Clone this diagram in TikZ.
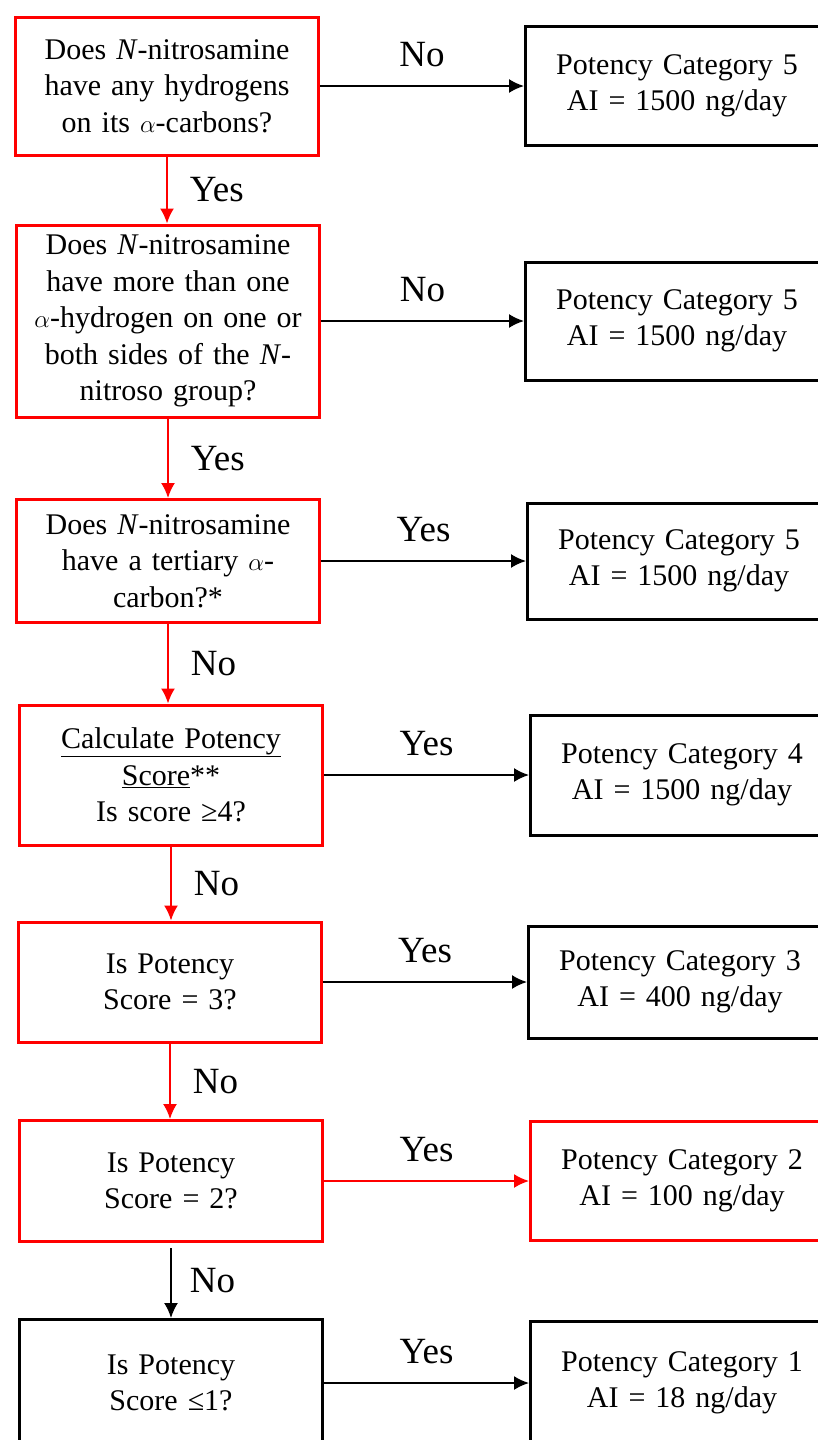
\documentclass[tikz,border=0pt]{standalone}
\usepackage{fontspec}
\setmainfont{Liberation Serif}
\usetikzlibrary{positioning,arrows.meta}
\tikzset{
qbox/.style={
  draw=#1,
  line width=3pt,
  minimum width=303pt,
  text width=296pt,
  align=center,
  inner sep=0pt,
  font=\fontsize{30}{36.5}\selectfont
  },
qbox/.default=red,
catbox/.style={
  qbox=#1,
  anchor=west
  },
catbox/.default=black,
lbl/.style={
  inner sep=0pt,
  font=\fontsize{37}{40}\selectfont
  },
link/.style={
  draw=#1,
  line width=1.8pt,
  -{Latex[length=15pt,width=14pt]}
  },
link/.default=black
}

\begin{document}
\begin{tikzpicture}[x=1pt,y=-1pt]
\useasboundingbox (0,0) rectangle (817,1440);

% questions
\node[qbox,minimum height=138pt] at (167,86) (q1)
  {Does \textit{N}-nitrosamine\\have any hydrogens\\on its $\alpha$-carbons?};
\node[qbox,minimum height=192pt] at (168,321) (q2)
  {Does \textit{N}-nitrosamine\\have more than one\\$\alpha$-hydrogen on one or\\both sides of the \textit{N}-\\nitroso group?};
\node[qbox,minimum height=123pt] at (168,561) (q3)
  {Does \textit{N}-nitrosamine\\have a tertiary $\alpha$-\\carbon?*};
\node[qbox,minimum height=140pt] at (171,775) (q4)
  {\underline{Calculate Potency}\\\underline{Score}**\\Is score ≥4?};
\node[qbox,minimum height=120pt] at (170,982) (q5)
  {Is Potency\\Score = 3?};
\node[qbox,minimum height=121pt] at (171,1181) (q6)
  {Is Potency\\Score = 2?};
\node[qbox=black,minimum height=127pt] at (171,1383) (q7)
  {Is Potency\\Score ≤1?};

% categories
\node[catbox,minimum height=119pt] at (524,86) (c1)
  {Potency Category 5\\AI = 1500 ng/day};
\node[catbox,minimum height=118pt] at (524,321) (c2)
  {Potency Category 5\\AI = 1500 ng/day};
\node[catbox,minimum height=116pt] at (526,561) (c3)
  {Potency Category 5\\AI = 1500 ng/day};
\node[catbox,minimum height=120pt] at (529,775) (c4)
  {Potency Category 4\\AI = 1500 ng/day};
\node[catbox,minimum height=112pt] at (527,982) (c5)
  {Potency Category 3\\AI = 400 ng/day};
\node[catbox=red,minimum height=119pt] at (529,1181) (c6)
  {Potency Category 2\\AI = 100 ng/day};
\node[catbox,minimum height=124pt] at (529,1383) (c7)
  {Potency Category 1\\AI = 18 ng/day};

\begin{scope}[every node/.style={lbl}]
\draw[link] (q1.east) -- node[midway,above=18pt] {No} (c1.west);
\draw[link] (q2.east) -- node[midway,above=18pt] {No} (c2.west);
\draw[link] (q3.east) -- node[midway,above=18pt] {Yes} (c3.west);
\draw[link] (q4.east) -- node[midway,above=18pt] {Yes} (c4.west);
\draw[link] (q5.east) -- node[midway,above=18pt] {Yes} (c5.west);
\draw[link=red] (q6.east) -- node[midway,above=18pt] {Yes} (c6.west);
\draw[link] (q7.east) -- node[midway,above=18pt] {Yes} (c7.west);

\draw[link=red] (q1.south) -- node[midway,right=22pt] {Yes} (q1.south |- q2.north);
\draw[link=red] (q2.south) -- node[midway,right=22pt] {Yes} (q2.south |- q3.north);
\draw[link=red] (q3.south) -- node[midway,right=22pt] {No} (q3.south |- q4.north);
\draw[link=red] (q4.south) -- node[midway,right=22pt] {No} (q4.south |- q5.north);
\draw[link=red] (q5.south) -- node[midway,right=22pt] {No} (q5.south |- q6.north);
\draw[link,shorten <=5pt] (q6.south) -- node[midway,right=18pt] {No} (q6.south |- q7.north);
\end{scope}
\end{tikzpicture}
\end{document}
